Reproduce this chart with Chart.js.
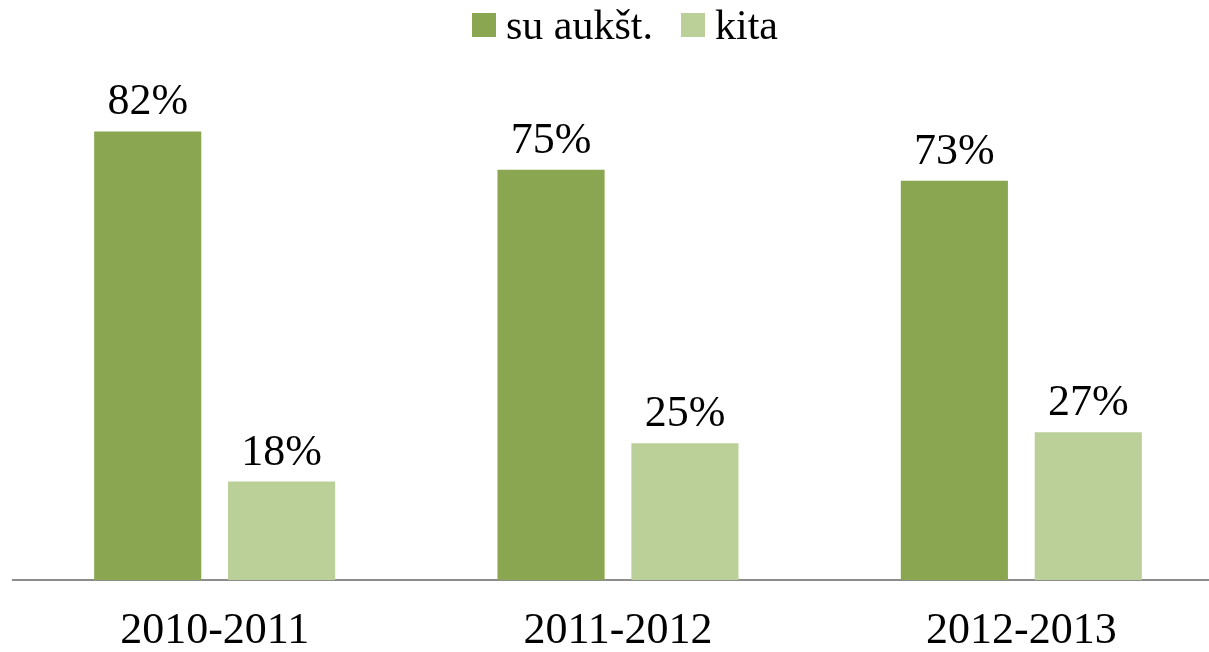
<!DOCTYPE html>
<html><head><meta charset="utf-8">
<script src="https://cdn.jsdelivr.net/npm/chart.js@4/dist/chart.umd.min.js"></script>
<style>html,body{margin:0;padding:0;background:#fff;overflow:hidden}#wrap{width:1223px;height:652px}</style>
</head><body><div id="wrap"><canvas id="c" width="1223" height="652"></canvas></div>
<script>
const categories = ['2010-2011', '2011-2012', '2012-2013'];
const seriesNames = ['su aukšt.', 'kita'];
const highEdu = [82, 75, 73];
const other = [18, 25, 27];
const colors = ['#8aa650', '#bbcf98'];
const FONT = '"Liberation Serif", "Times New Roman", serif';

const labelPlugin = {
  id: 'valueLabels',
  afterDatasetsDraw(chart) {
    const ctx = chart.ctx;
    ctx.save();
    ctx.font = '44px ' + FONT;
    ctx.fillStyle = '#000';
    ctx.textAlign = 'center';
    ctx.textBaseline = 'alphabetic';
    chart.data.datasets.forEach((ds, i) => {
      chart.getDatasetMeta(i).data.forEach((bar, j) => {
        ctx.fillText(ds.data[j] + '%', bar.x, bar.y - 17);
      });
    });
    ctx.restore();
  }
};

const legendPlugin = {
  id: 'customLegend',
  afterDraw(chart) {
    const ctx = chart.ctx;
    ctx.save();
    ctx.font = '42px ' + FONT;
    ctx.textBaseline = 'alphabetic';
    ctx.textAlign = 'left';
    const box = 24, gapText = 10, gapItem = 28;
    const items = chart.data.datasets.map(d => ({label: d.label, color: d.backgroundColor, w: ctx.measureText(d.label).width}));
    let total = 0;
    items.forEach((it, k) => { total += box + gapText + it.w + (k < items.length - 1 ? gapItem : 0); });
    let x = 625 - total / 2;
    items.forEach(it => {
      ctx.fillStyle = it.color;
      ctx.fillRect(x, 13, box, box);
      ctx.fillStyle = '#000';
      ctx.fillText(it.label, x + box + gapText, 39);
      x += box + gapText + it.w + gapItem;
    });
    ctx.restore();
  }
};

new Chart(document.getElementById('c'), {
  type: 'bar',
  data: {
    labels: categories,
    datasets: [
      {label: seriesNames[0], data: highEdu, backgroundColor: colors[0], categoryPercentage: 0.664, barPercentage: 0.8},
      {label: seriesNames[1], data: other, backgroundColor: colors[1], categoryPercentage: 0.664, barPercentage: 0.8}
    ]
  },
  options: {
    responsive: false,
    animation: false,
    layout: {padding: {left: 13, right: 0, top: 33, bottom: 0}},
    plugins: {legend: {display: false}, tooltip: {enabled: false}},
    scales: {
      x: {
        grid: {display: false, drawTicks: false},
        border: {display: true, color: '#8c8c8c', width: 2},
        ticks: {color: '#000', font: {family: FONT, size: 44}, padding: 25},
        afterFit(s) { s.height = 72; }
      },
      y: {display: false, min: 0, max: 100}
    }
  },
  plugins: [labelPlugin, legendPlugin]
});
</script></body></html>
